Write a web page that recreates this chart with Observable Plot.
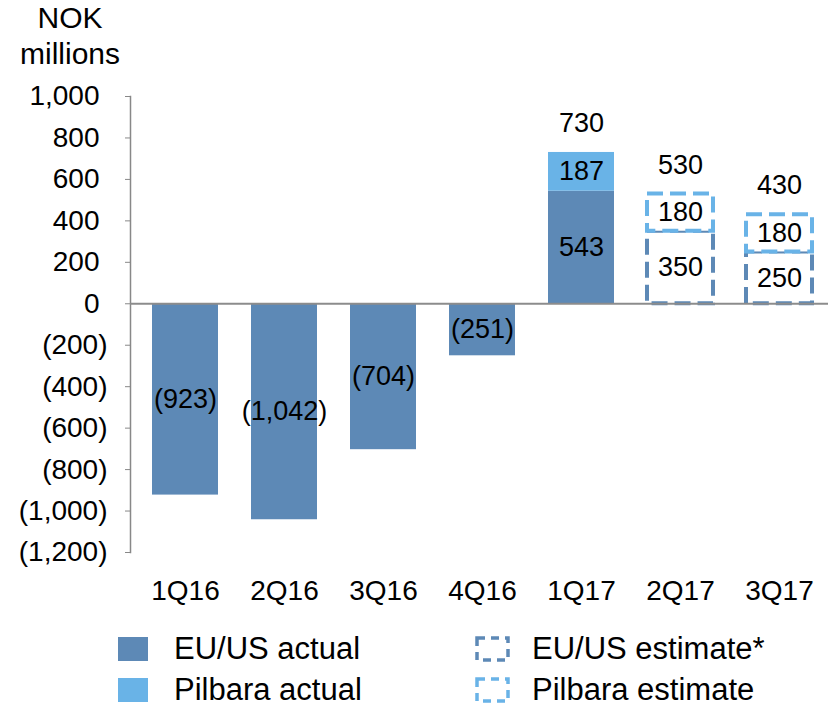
<!DOCTYPE html>
<html>
<head>
<meta charset="utf-8">
<script src="https://cdn.jsdelivr.net/npm/d3@7"></script>
<script src="https://cdn.jsdelivr.net/npm/@observablehq/plot@0.6"></script>
<style>
  html, body { margin: 0; padding: 0; background: #fff; }
  #wrap { position: relative; width: 830px; height: 710px; font-family: Arial, "Liberation Sans", sans-serif; color: #000; overflow: hidden; }
  #title { position: absolute; left: 0; top: 0px; width: 140px; text-align: center; font-size: 30px; line-height: 36px; }
  #chart { position: absolute; left: 0; top: 0; }
  .leg { position: absolute; display: flex; align-items: center; font-size: 31px; line-height: 30px; height: 30px; white-space: nowrap; }
</style>
</head>
<body>
<div id="wrap">
  <div id="chart"></div>
  <div id="title">NOK<br>millions</div>
  <div id="legend"></div>
</div>
<script>
const quarters = ["1Q16", "2Q16", "3Q16", "4Q16", "1Q17", "2Q17", "3Q17"];
const euusActual = [-923, -1042, -704, -251, 543, null, null];
const pilbaraActual = [null, null, null, null, 187, null, null];
const euusEstimate = [null, null, null, null, null, 350, 250];
const pilbaraEstimate = [null, null, null, null, null, 180, 180];
const totals = [null, null, null, null, 730, 530, 430];
const yTicks = [-1200, -1000, -800, -600, -400, -200, 0, 200, 400, 600, 800, 1000];
const seriesNames = ["EU/US actual", "Pilbara actual", "EU/US estimate*", "Pilbara estimate"];

const darkBlue = "#5d89b6";
const lightBlue = "#69b3e7";
const fmtNum = d3.format(",");
const fmt = v => v < 0 ? `(${fmtNum(-v)})` : fmtNum(v);

const rows = quarters.map((q, i) => ({
  q,
  eu: euusActual[i], pil: pilbaraActual[i],
  euE: euusEstimate[i], pilE: pilbaraEstimate[i],
  total: totals[i]
}));
const euRows = rows.filter(d => d.eu != null);
const pilRows = rows.filter(d => d.pil != null);
const euERows = rows.filter(d => d.euE != null);
const pilERows = rows.filter(d => d.pilE != null);
const totRows = rows.filter(d => d.total != null);

const FS = 27;
const AFS = 28;
const font = "Arial, 'Liberation Sans', sans-serif";

const chart = Plot.plot({
  width: 830,
  height: 620,
  marginLeft: 130,
  marginRight: 2,
  marginTop: 96,
  marginBottom: 68,
  style: { fontFamily: font, fontSize: FS + "px", color: "#000", background: "transparent" },
  x: { domain: quarters, range: [133, 831], paddingInner: 0.33, paddingOuter: 0.18, label: null },
  y: { domain: [-1200, 1000], label: null },
  marks: [
    Plot.axisY({ ticks: yTicks.filter(t => t >= 0), tickFormat: fmt, tickSize: 5, tickPadding: 26, stroke: "#888", fontSize: AFS, label: null, fill: "#000" }),
    Plot.axisY({ ticks: yTicks.filter(t => t < 0), tickFormat: fmt, tickSize: 5, tickPadding: 18, stroke: "#888", fontSize: AFS, label: null, fill: "#000" }),
    Plot.axisX({ tickSize: 0, tickPadding: 28, fontSize: AFS, label: null, fill: "#000" }),
    Plot.frame({ anchor: "left", stroke: "#888", strokeWidth: 1.5 }),
    Plot.barY(euRows, { x: "q", y1: 0, y2: "eu", fill: darkBlue }),
    Plot.barY(pilRows, { x: "q", y1: "eu", y2: d => d.eu + d.pil, fill: lightBlue }),
    Plot.barY(euERows, { x: "q", y1: 0, y2: "euE", fill: "white", stroke: darkBlue, strokeWidth: 4, strokeDasharray: "16,7" }),
    Plot.barY(pilERows, { x: "q", y1: "euE", y2: d => d.euE + d.pilE, fill: "white", stroke: lightBlue, strokeWidth: 4, strokeDasharray: "16,7" }),
    Plot.ruleY([0], { stroke: "#8c8c8c", strokeWidth: 2 }),
    Plot.text(euRows, { x: "q", y: d => d.eu / 2, text: d => fmt(d.eu), fontSize: FS, fill: "#000" }),
    Plot.text(pilRows, { x: "q", y: d => d.eu + d.pil / 2, text: d => fmt(d.pil), fontSize: FS, fill: "#000" }),
    Plot.text(euERows, { x: "q", y: d => d.euE / 2, text: d => fmt(d.euE), fontSize: FS, fill: "#000" }),
    Plot.text(pilERows, { x: "q", y: d => d.euE + d.pilE / 2, text: d => fmt(d.pilE), fontSize: FS, fill: "#000" }),
    Plot.text(totRows, { x: "q", y: "total", dy: -29, text: d => fmt(d.total), fontSize: FS, fill: "#000" })
  ]
});
document.getElementById("chart").appendChild(chart);

// Legend
const legend = document.getElementById("legend");
const legendItems = [
  { name: seriesNames[0], color: darkBlue, dashed: false, left: 118, top: 649 },
  { name: seriesNames[1], color: lightBlue, dashed: false, left: 118, top: 690 },
  { name: seriesNames[2], color: darkBlue, dashed: true, left: 475, top: 649 },
  { name: seriesNames[3], color: lightBlue, dashed: true, left: 475, top: 690 }
];
for (const it of legendItems) {
  const el = document.createElement("div");
  el.className = "leg";
  el.style.left = it.left + "px";
  el.style.top = (it.top - 15) + "px";
  let sw;
  if (it.dashed) {
    sw = `<svg width="35" height="26" style="margin-right:22px;flex:none"><rect x="2" y="2" width="31" height="22" fill="none" stroke="${it.color}" stroke-width="3.5" stroke-dasharray="8,6"/></svg>`;
  } else {
    sw = `<svg width="30" height="24" style="margin-right:26px;flex:none"><rect x="0" y="0" width="30" height="24" fill="${it.color}"/></svg>`;
  }
  el.innerHTML = sw + `<span>${it.name}</span>`;
  legend.appendChild(el);
}
</script>
</body>
</html>
